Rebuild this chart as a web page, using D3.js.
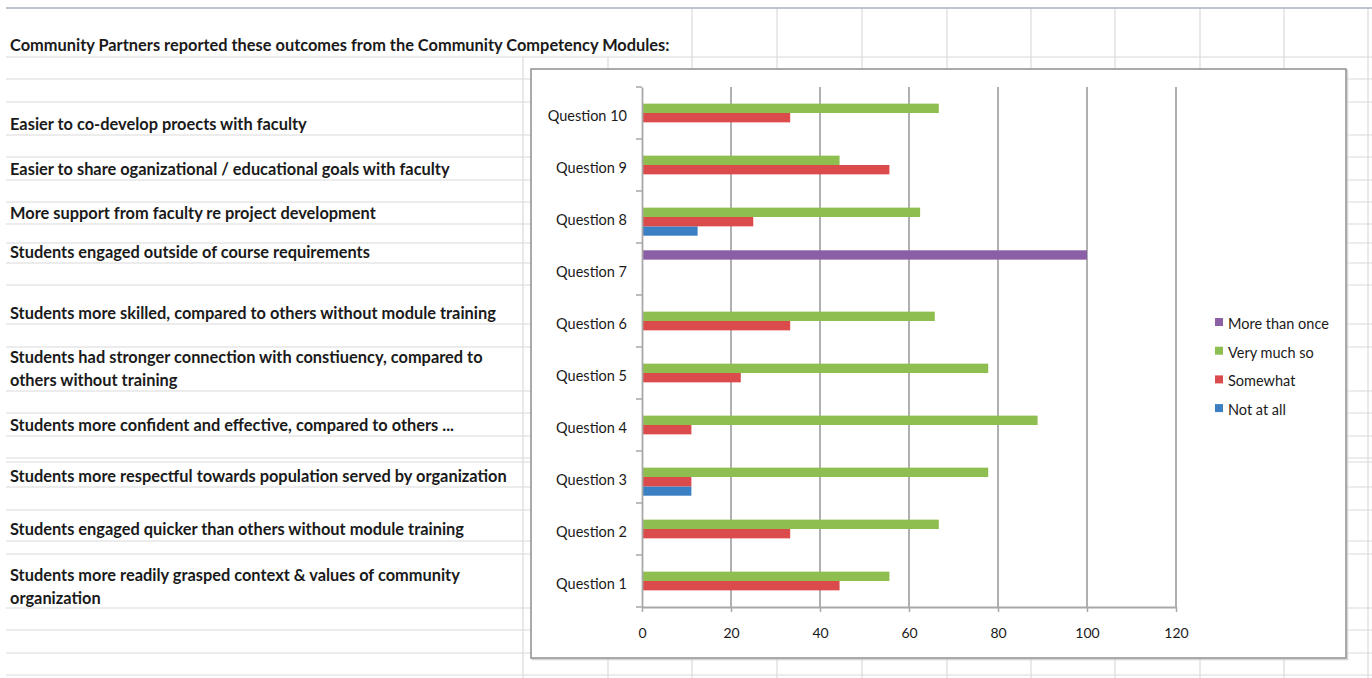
<!DOCTYPE html>
<html>
<head>
<meta charset="utf-8">
<script src="https://cdn.jsdelivr.net/npm/d3@7"></script>
<style>
  html, body { margin: 0; padding: 0; background: #fff; }
  svg { display: block; }
</style>
</head>
<body>
<div id="chart"></div>
<script>
// Chart data
const questions = ["Question 1", "Question 2", "Question 3", "Question 4", "Question 5",
  "Question 6", "Question 7", "Question 8", "Question 9", "Question 10"];
const seriesNames = ["Not at all", "Somewhat", "Very much so", "More than once"];
const notAtAll     = [0, 0, 11.1, 0, 0, 0, 0, 12.5, 0, 0];
const somewhat     = [44.4, 33.3, 11.1, 11.1, 22.2, 33.3, 0, 25, 55.6, 33.3];
const veryMuchSo   = [55.6, 66.7, 77.8, 88.9, 77.8, 65.8, 0, 62.5, 44.4, 66.7];
const moreThanOnce = [0, 0, 0, 0, 0, 0, 100, 0, 0, 0];
const xTicks = [0, 20, 40, 60, 80, 100, 120];

// Spreadsheet cell text (column A)
const sheetTitle = "Community Partners reported these outcomes from the Community Competency Modules:";
const outcomes = [
  ["Easier to co-develop proects with faculty"],
  ["Easier to share oganizational / educational goals with faculty"],
  ["More support from faculty re project development"],
  ["Students engaged outside of course requirements"],
  ["Students more skilled, compared to others without module training"],
  ["Students had stronger connection with constiuency, compared to", "others without training"],
  ["Students more confident and effective, compared to others ..."],
  ["Students more respectful towards population served by organization"],
  ["Students engaged quicker than others without module training"],
  ["Students more readily grasped context & values of community", "organization"]
];

const width = 1372, height = 678;
const colors = { "Not at all": "#3b80c3", "Somewhat": "#dc4b4c", "Very much so": "#8fbe50", "More than once": "#8a5fa6" };
const values = { "Not at all": notAtAll, "Somewhat": somewhat, "Very much so": veryMuchSo, "More than once": moreThanOnce };

const svg = d3.select("#chart").append("svg")
  .attr("width", width)
  .attr("height", height)
  .style("font-family", "Lato, 'Open Sans', sans-serif");

svg.append("rect").attr("width", width).attr("height", height).attr("fill", "#fff");

// ---- spreadsheet grid ----
const rowLines = [57, 79, 102, 135, 157, 180, 202, 224, 243, 263, 285, 324, 347, 391, 413,
  436, 458, 462, 487, 510, 541, 554, 608, 630, 653, 675];
const colLines = [523, 608, 692, 777, 862, 947, 1031, 1115, 1200, 1284, 1368];
const grid = svg.append("g").attr("stroke", "#dadada").attr("stroke-width", 1.2);

grid.selectAll("line.row").data(rowLines).join("line")
  .attr("class", "row")
  .attr("x1", 6).attr("x2", width)
  .attr("y1", d => d).attr("y2", d => d);

// title overflows columns B and C, so their borders start below row 1
grid.selectAll("line.col").data(colLines).join("line")
  .attr("class", "col")
  .attr("x1", d => d).attr("x2", d => d)
  .attr("y1", d => d < 680 ? 57 : 8)
  .attr("y2", height);

svg.append("line")
  .attr("x1", 6).attr("x2", width).attr("y1", 8).attr("y2", 8)
  .attr("stroke", "#a7b0bb").attr("stroke-width", 1.5);

// ---- column A text ----
const textG = svg.append("g").attr("fill", "#1a1a1a").attr("font-weight", 700);
const titleText = textG.append("text")
  .attr("x", 10).attr("y", 51)
  .attr("font-size", 14)
  .text(sheetTitle);

// scale font so the title spans the same width as in the sheet
const baseLen = titleText.node().getComputedTextLength();
const fontSize = 14 * 660 / baseLen;
titleText.attr("font-size", fontSize);

const outcomeY = [124, 169, 213, 252, 313, 357, 425, 476, 529, 575];
outcomes.forEach((lines, i) => {
  lines.forEach((line, j) => {
    textG.append("text")
      .attr("x", 10)
      .attr("y", outcomeY[i] + j * 23)
      .attr("dy", "0.35em")
      .attr("font-size", fontSize)
      .text(line);
  });
});

// ---- embedded chart ----
const box = { x: 531, y: 69, w: 815, h: 589 };
svg.append("rect")
  .attr("x", box.x + 1.5).attr("y", box.y + 1.5)
  .attr("width", box.w).attr("height", box.h)
  .attr("fill", "none").attr("stroke", "#d4d4d4").attr("stroke-width", 1.5);
svg.append("rect")
  .attr("x", box.x).attr("y", box.y)
  .attr("width", box.w).attr("height", box.h)
  .attr("fill", "#fff").attr("stroke", "#8f8f8f").attr("stroke-width", 1.5);

const plot = { left: 642, right: 1176, top: 87, bottom: 607 };

const x = d3.scaleLinear().domain([0, 120]).range([plot.left, plot.right]);
const y = d3.scaleBand().domain(questions.slice().reverse()).range([plot.top, plot.bottom]);
// top to bottom within a category: More than once, Very much so, Somewhat, Not at all
const ySub = d3.scaleBand()
  .domain(seriesNames.slice().reverse())
  .range([0, y.bandwidth()])
  .paddingOuter(0.78);

// vertical gridlines
svg.append("g")
  .selectAll("line")
  .data(xTicks.slice(1))
  .join("line")
  .attr("x1", d => x(d)).attr("x2", d => x(d))
  .attr("y1", plot.top).attr("y2", plot.bottom)
  .attr("stroke", "#a8a8a8").attr("stroke-width", 1.8);

// bars
const barG = svg.append("g");
seriesNames.forEach(name => {
  barG.append("g")
    .attr("fill", colors[name])
    .selectAll("rect")
    .data(questions.map((q, i) => ({ q, v: values[name][i] })).filter(d => d.v > 0))
    .join("rect")
    .attr("x", x(0))
    .attr("y", d => y(d.q) + ySub(name))
    .attr("width", d => x(d.v) - x(0))
    .attr("height", ySub.bandwidth());
});

// x axis
const xAxis = svg.append("g")
  .attr("transform", `translate(0,${plot.bottom})`)
  .call(d3.axisBottom(x).tickValues(xTicks).tickSize(5).tickPadding(16).tickSizeOuter(0));
xAxis.select(".domain").attr("stroke", "#a8a8a8").attr("stroke-width", 1.8);
xAxis.selectAll(".tick line").attr("stroke", "#a8a8a8").attr("stroke-width", 1.5);
xAxis.selectAll(".tick text")
  .attr("font-size", 14).attr("fill", "#1a1a1a")
  .style("font-family", "Lato, sans-serif");

// y axis
const yAxis = svg.append("g")
  .attr("transform", `translate(${plot.left},0)`)
  .call(d3.axisLeft(y).tickSize(0).tickPadding(15));
yAxis.select(".domain").attr("stroke", "#a8a8a8").attr("stroke-width", 1.8);
yAxis.selectAll(".tick text")
  .attr("font-size", 14.5).attr("fill", "#1a1a1a")
  .attr("y", 3)
  .style("font-family", "Lato, sans-serif");

// category boundary ticks
svg.append("g")
  .selectAll("line")
  .data(questions.map(q => y(q)).concat([plot.bottom]))
  .join("line")
  .attr("x1", plot.left - 6).attr("x2", plot.left)
  .attr("y1", d => d).attr("y2", d => d)
  .attr("stroke", "#a8a8a8").attr("stroke-width", 1.5);

// legend
const legend = svg.append("g").attr("transform", "translate(1215,323)");
legend.selectAll("g")
  .data(seriesNames.slice().reverse())
  .join("g")
  .attr("transform", (d, i) => `translate(0,${i * 28.7})`)
  .each(function(d) {
    const g = d3.select(this);
    g.append("rect")
      .attr("x", 0).attr("y", -5)
      .attr("width", 8).attr("height", 8)
      .attr("fill", colors[d]);
    g.append("text")
      .attr("x", 13).attr("y", 1)
      .attr("dy", "0.35em")
      .attr("font-size", 14.5)
      .attr("fill", "#1a1a1a")
      .text(d);
  });
</script>
</body>
</html>
